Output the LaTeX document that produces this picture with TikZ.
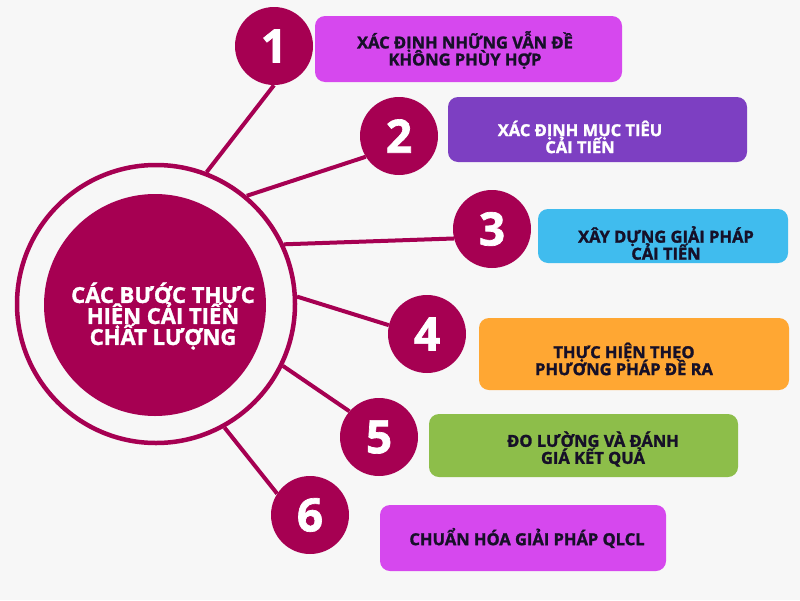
\documentclass[tikz,border=0pt]{standalone}
\usepackage{fontspec}
\setmainfont{Open Sans}[BoldFeatures={FakeBold=1.5}]
\lineskiplimit=-100pt

\definecolor{berry}{RGB}{166,0,82}
\definecolor{paper}{RGB}{247,247,247}
\definecolor{orchid}{RGB}{214,72,238}
\definecolor{grape}{RGB}{125,63,194}
\definecolor{sky}{RGB}{64,188,238}
\definecolor{amber}{RGB}{255,167,51}
\definecolor{leaf}{RGB}{141,190,74}
\definecolor{ink}{RGB}{22,16,40}

\tikzset{
  numdot/.style={circle, fill=berry, minimum size=78pt, inner sep=0pt, text=white,
    font=\bfseries\fontsize{46}{46}\selectfont},
  stepbox/.style={rounded corners=10pt, inner sep=0pt},
  steptext/.style={align=center, text=ink, font=\bfseries\fontsize{16.5}{17}\selectfont},
  link/.style={draw=berry, line width=4pt},
}

\begin{document}
\begin{tikzpicture}[x=1pt, y=-1pt]
    \fill[paper] (0,0) rectangle (800,600);

    % centre
    \node[circle, draw=berry, line width=4.5pt, minimum size=278pt, inner sep=0pt] (ring) at (156,304) {};
    \node[circle, fill=berry, minimum size=222pt, inner sep=0pt] (core) at (155,305) {};
    \node[align=center, text=white, font=\bfseries\fontsize{22}{21}\selectfont] (title) at (163,316)
      {CÁC BƯỚC THỰC\\HIỆN CẢI TIẾN\\CHẤT LƯỢNG};

    % numbers
    \node[numdot] (n1) at (274,46) {1};
    \node[numdot] (n2) at (399,136) {2};
    \node[numdot] (n3) at (492,229) {3};
    \node[numdot] (n4) at (427,334) {4};
    \node[numdot] (n5) at (379,437) {5};
    \node[numdot] (n6) at (310,515) {6};

    \draw[link] (ring.69) -- (n1.270);
    \draw[link] (ring.50) -- (n2.212);
    \draw[link] (ring.25) -- (n3.194);
    \draw[link] (ring.3) -- (n4.167);
    \draw[link] (ring.-26) -- (n5.139);
    \draw[link] (ring.-61) -- (n6.147);

    % boxes
    \node[stepbox, fill=orchid, minimum width=307pt, minimum height=66pt] (b1) at (468.5,49) {};
    \node[stepbox, fill=grape, minimum width=299pt, minimum height=65pt] (b2) at (597.5,129.5) {};
    \node[stepbox, fill=sky, minimum width=250pt, minimum height=54pt] (b3) at (663,236) {};
    \node[stepbox, fill=amber, minimum width=310pt, minimum height=72pt] (b4) at (634,354) {};
    \node[stepbox, fill=leaf, minimum width=309pt, minimum height=63pt] (b5) at (583.5,445.5) {};
    \node[stepbox, fill=orchid, minimum width=286pt, minimum height=66pt] (b6) at (523,538) {};

    \node[steptext] (t1) at (465,50) {XÁC ĐỊNH NHỮNG VẪN ĐỀ\\KHÔNG PHÙY HỢP};
    \node[steptext, text=white] (t2) at (580,137) {XÁC ĐỊNH MỤC TIÊU\\CẢI TIẾN};
    \node[steptext] (t3) at (666,243) {XÂY DỰNG GIẢI PHÁP\\CẢI TIẾN};
    \node[steptext] (t4) at (624,359) {THỰC HIỆN THEO\\PHƯƠNG PHÁP ĐỀ RA};
    \node[steptext] (t5) at (593,449) {ĐO LƯỜNG VÀ ĐÁNH\\GIÁ KẾT QUẢ};
    \node[steptext] (t6) at (527,538) {CHUẨN HÓA GIẢI PHÁP QLCL};
\end{tikzpicture}
\end{document}
